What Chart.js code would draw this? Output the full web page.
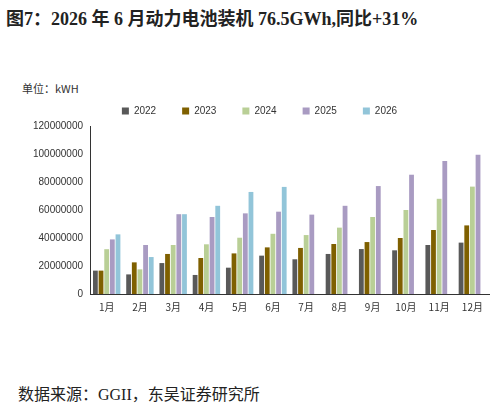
<!DOCTYPE html>
<html><head><meta charset="utf-8">
<script src="https://cdn.jsdelivr.net/npm/chart.js@4"></script>
<style>
body{margin:0;width:495px;height:409px;background:#fff;position:relative}
#title{position:absolute;left:6px;top:4px;font-size:18px;font-weight:bold;color:#222;font-family:"Liberation Serif","Noto Sans CJK SC",serif}
#src{position:absolute;left:18px;top:381px;font-size:16px;color:#222;font-family:"Liberation Serif","Noto Sans CJK SC",serif}
#unit{position:absolute;left:22px;top:80px;font-size:11px;color:#333;font-family:"Noto Sans CJK SC",sans-serif}
#wrap{position:absolute;left:0;top:80px;width:495px;height:236px}
</style></head><body>
<div id="title">图7：2026 年 6 月动力电池装机 76.5GWh,同比+31%</div>
<div id="unit">单位：kWH</div>
<div id="wrap"><canvas id="c"></canvas></div>
<div id="src">数据来源：GGII，东吴证券研究所</div>
<script>
const months = ['1月','2月','3月','4月','5月','6月','7月','8月','9月','10月','11月','12月'];
const years = ['2022','2023','2024','2025','2026'];
const colors = ['#595959','#7f6000','#b9cf96','#a99bc2','#92c5d9'];
const v2022 = [16700000,14000000,22100000,13600000,18800000,27400000,24800000,28600000,32100000,31200000,35000000,36700000];
const v2023 = [16700000,22600000,28600000,25700000,29000000,33300000,32900000,35700000,37100000,40000000,45700000,49000000];
const v2024 = [32000000,17600000,35000000,35500000,40200000,43000000,42100000,47400000,55000000,60000000,68000000,76700000];
const v2025 = [39000000,35000000,57000000,55000000,57600000,58800000,56700000,63000000,77100000,85200000,95000000,99500000];
const v2026 = [42600000,26400000,57000000,63000000,72900000,76500000,null,null,null,null,null,null];
const series = [v2022,v2023,v2024,v2025,v2026];

new Chart(document.getElementById('c'), {
  type: 'bar',
  data: {
    labels: months,
    datasets: series.map((d, i) => ({
      label: years[i], data: d, backgroundColor: colors[i],
      barPercentage: 0.85, categoryPercentage: 0.85
    }))
  },
  options: {
    responsive: true, maintainAspectRatio: false, animation: false,
    layout: { padding: { left: 30, right: 6, top: 0, bottom: 0 } },
    plugins: {
      legend: {
        position: 'top', align: 'center',
        labels: { boxWidth: 7, boxHeight: 7, font: { size: 10 }, color: '#333', padding: 26 }
      },
      tooltip: { enabled: false }
    },
    scales: {
      x: {
        grid: { display: false, drawTicks: true, tickLength: 4 },
        border: { color: '#333' },
        ticks: { font: { size: 10, family: 'Noto Sans CJK SC' }, color: '#333' }
      },
      y: {
        min: 0, max: 120000000,
        ticks: { stepSize: 20000000, font: { size: 10 }, color: '#333', callback: v => String(v) },
        grid: { display: false, drawTicks: true, tickLength: 4 },
        border: { color: '#333' }
      }
    }
  }
});
</script>
</body></html>
